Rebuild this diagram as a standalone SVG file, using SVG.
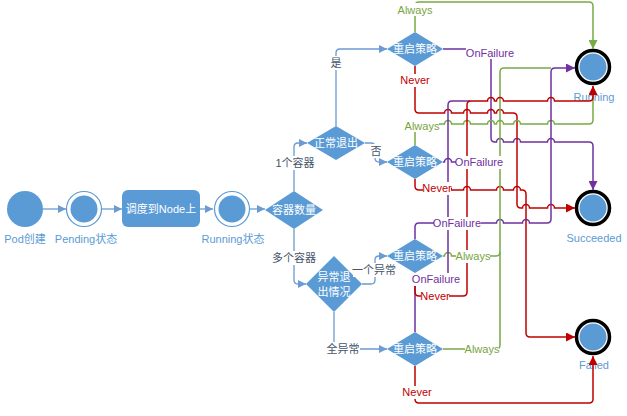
<svg xmlns="http://www.w3.org/2000/svg" width="627" height="416" viewBox="0 0 627 416">
<style>
.fill{fill:#5b9bd5}
.bl{stroke:#6b9bd2;stroke-width:1.3;fill:none}
.g{stroke:#77ab43;stroke-width:1.5;fill:none}
.r{stroke:#c00000;stroke-width:1.5;fill:none}
.p{stroke:#7030a0;stroke-width:1.5;fill:none}
text{font-family:"Liberation Sans","Noto Sans CJK SC",sans-serif;text-anchor:middle;dominant-baseline:central}
.wt{fill:#fff;font-size:11px}
.nl{fill:#5b9bd5;font-size:11px}
.cl{fill:#44546a;font-size:11px}
.tg{fill:#77a43f;font-size:11px}
.tr{fill:#c00000;font-size:11px}
.tp{fill:#7030a0;font-size:11px}
.bg{fill:#fff}
</style>
<defs>
<marker id="mb" viewBox="0 0 10 10" refX="10" refY="5" markerUnits="userSpaceOnUse" markerWidth="9" markerHeight="8" orient="auto"><path d="M0,0 L10,5 L0,10 z" fill="#6b9bd2"/></marker>
<marker id="mg" viewBox="0 0 10 10" refX="10" refY="5" markerUnits="userSpaceOnUse" markerWidth="10" markerHeight="9" orient="auto"><path d="M0,0 L10,5 L0,10 z" fill="#77ab43"/></marker>
<marker id="mr" viewBox="0 0 10 10" refX="10" refY="5" markerUnits="userSpaceOnUse" markerWidth="10" markerHeight="9" orient="auto"><path d="M0,0 L10,5 L0,10 z" fill="#c00000"/></marker>
<marker id="mp" viewBox="0 0 10 10" refX="10" refY="5" markerUnits="userSpaceOnUse" markerWidth="10" markerHeight="9" orient="auto"><path d="M0,0 L10,5 L0,10 z" fill="#7030a0"/></marker>
</defs>

<g id="pod-create"><circle class="fill" cx="25" cy="209" r="18"/><text class="nl" x="25" y="239">Pod创建</text></g>
<g id="pending"><circle cx="84" cy="209" r="17.5" fill="#fff" stroke="#5b9bd5" stroke-width="1.2"/><circle class="fill" cx="84" cy="209" r="13.5"/><text class="nl" x="86" y="239">Pending状态</text></g>
<g id="schedule"><rect class="fill" x="122" y="190" width="78" height="37" rx="6"/><text class="wt" x="161" y="209">调度到Node上</text></g>
<g id="running-state"><circle cx="232" cy="209" r="17.5" fill="#fff" stroke="#5b9bd5" stroke-width="1.2"/><circle class="fill" cx="232" cy="209" r="13.5"/><text class="nl" x="233" y="239">Running状态</text></g>
<g id="count"><polygon class="fill" points="265,210 294,191 323,210 294,229"/><text class="wt" x="294" y="210">容器数量</text></g>
<g id="normal-exit"><polygon class="fill" points="307,143 336,126 365,143 336,160"/><text class="wt" x="336" y="143">正常退出</text></g>
<g id="abnormal-exit"><polygon class="fill" points="306,284 334,256 362,284 334,312"/><text class="wt" x="334" y="277">异常退</text><text class="wt" x="334" y="292">出情况</text></g>
<g id="policy1"><polygon class="fill" points="387,49 415,32 443,49 415,66"/><text class="wt" x="415" y="49">重启策略</text></g>
<g id="policy2"><polygon class="fill" points="387,162 415,145 443,162 415,179"/><text class="wt" x="415" y="162">重启策略</text></g>
<g id="policy3"><polygon class="fill" points="387,256 415,239 443,256 415,273"/><text class="wt" x="415" y="256">重启策略</text></g>
<g id="policy4"><polygon class="fill" points="387,349 415,332 443,349 415,366"/><text class="wt" x="415" y="349">重启策略</text></g>
<g id="final-running"><circle cx="593" cy="67" r="16.5" fill="#fff" stroke="#000" stroke-width="3.5"/><circle class="fill" cx="593" cy="67" r="13.5"/><text class="nl" x="594" y="97">Running</text></g>
<g id="final-succeeded"><circle cx="593" cy="208" r="16.5" fill="#fff" stroke="#000" stroke-width="3.5"/><circle class="fill" cx="593" cy="208" r="13.5"/><text class="nl" x="594" y="238">Succeeded</text></g>
<g id="final-failed"><circle cx="593" cy="337" r="16.5" fill="#fff" stroke="#000" stroke-width="3.5"/><circle class="fill" cx="593" cy="337" r="13.5"/><text class="nl" x="594" y="365">Failed</text></g>

<g id="connectors">
<path class="bl" d="M43,209 H66" marker-end="url(#mb)"/>
<path class="bl" d="M102,209 H122" marker-end="url(#mb)"/>
<path class="bl" d="M200,209 H213" marker-end="url(#mb)"/>
<path class="bl" d="M250,209 H265" marker-end="url(#mb)"/>
<path class="bl" d="M294,191 V147 Q294,143 298,143 H307" marker-end="url(#mb)"/>
<path class="bl" d="M294,229 V280 Q294,284 298,284 H306" marker-end="url(#mb)"/>
<path class="bl" d="M336,126 V53 Q336,49 340,49 H387" marker-end="url(#mb)"/>
<path class="bl" d="M365,143 H371 Q375,143 375,147 V158 Q375,162 379,162 H387" marker-end="url(#mb)"/>
<path class="bl" d="M362,284 H371 Q375,284 375,280 V260 Q375,256 379,256 H387" marker-end="url(#mb)"/>
<path class="bl" d="M334,312 V345 Q334,349 338,349 H387" marker-end="url(#mb)"/>

<path class="g" d="M415,32 V6 Q415,2 419,2 H589 Q593,2 593,6 V49" marker-end="url(#mg)"/>
<path class="p" d="M443,49 H487 Q491,49 491,53 V138 Q491,142 495,142 H496.5 a3.5,3.5 0 0 1 7,0 H513.5 a3.5,3.5 0 0 1 7,0 H547.5 a3.5,3.5 0 0 1 7,0 H589 Q593,142 593,146 V190" marker-end="url(#mp)"/>
<path class="r" d="M415,66 V109 Q415,113 419,113 H444.5 a3.5,3.5 0 0 1 7,0 H463.5 a3.5,3.5 0 0 1 7,0 H487.5 a3.5,3.5 0 0 1 7,0 H496.5 a3.5,3.5 0 0 1 7,0 H513 Q517,113 517,117 V204 Q517,208 521,208 H522.5 a3.5,3.5 0 0 1 7,0 H547.5 a3.5,3.5 0 0 1 7,0 H575" marker-end="url(#mr)"/>
<path class="g" d="M415,145 V128 Q415,124 419,124 H444.5 a3.5,3.5 0 0 1 7,0 H463.5 a3.5,3.5 0 0 1 7,0 H487.5 a3.5,3.5 0 0 1 7,0 H496.5 a3.5,3.5 0 0 1 7,0 H513.5 a3.5,3.5 0 0 1 7,0 H547.5 a3.5,3.5 0 0 1 7,0 H589 Q593,124 593,120 V86" marker-end="url(#mg)"/>
<path class="p" d="M443,162 H444.5 a3.5,3.5 0 0 1 7,0 H480"/>
<path class="r" d="M415,179 V186 Q415,190 419,190 H444.5 a3.5,3.5 0 0 1 7,0 H463.5 a3.5,3.5 0 0 1 7,0 H496.5 a3.5,3.5 0 0 1 7,0 H513.5 a3.5,3.5 0 0 1 7,0 H522 Q526,190 526,194 V333 Q526,337 530,337 H575" marker-end="url(#mr)"/>
<path class="p" d="M415,239 V227 Q415,223 419,223 H444.5 a3.5,3.5 0 0 1 7,0 H463.5 a3.5,3.5 0 0 1 7,0 H496.5 a3.5,3.5 0 0 1 7,0 H522.5 a3.5,3.5 0 0 1 7,0 H547 Q551,223 551,219 V72 Q551,68 555,68 H575" marker-end="url(#mp)"/>
<path class="g" d="M443,256 H444.5 a3.5,3.5 0 0 1 7,0 H463.5 a3.5,3.5 0 0 1 7,0 H496 Q500,256 500,252"/>
<path class="g" d="M443,349 H496 Q500,349 500,345 V72 Q500,68 504,68 H551"/>
<path class="p" d="M415,332 V283 Q415,279 419,279 H444 Q448,279 448,275 V105 Q448,101 452,101 H470"/>
<path class="r" d="M415,273 V292 Q415,296 419,296 H463 Q467,296 467,292 V105 Q467,101 471,101 H487.5 a3.5,3.5 0 0 1 7,0 H496.5 a3.5,3.5 0 0 1 7,0 H547.5 a3.5,3.5 0 0 1 7,0 H589 Q593,101 593,97 V86" marker-end="url(#mr)"/>
<path class="r" d="M415,366 V399 Q415,403 419,403 H589 Q593,403 593,399 V356" marker-end="url(#mr)"/>
</g>

<g id="labels">
<rect class="bg" x="276" y="156" width="38" height="14"/><text class="cl" x="295" y="163">1个容器</text>
<rect class="bg" x="273" y="251" width="43" height="14"/><text class="cl" x="294" y="258">多个容器</text>
<rect class="bg" x="330" y="56" width="12" height="14"/><text class="cl" x="336" y="63">是</text>
<rect class="bg" x="370" y="144" width="12" height="14"/><text class="cl" x="376" y="151">否</text>
<rect class="bg" x="353" y="263" width="43" height="14"/><text class="cl" x="374" y="270">一个异常</text>
<rect class="bg" x="326" y="342" width="34" height="14"/><text class="cl" x="343" y="349">全异常</text>

<rect class="bg" x="398" y="3" width="34" height="13"/><text class="tg" x="415" y="10">Always</text>
<rect class="bg" x="466" y="46" width="48" height="13"/><text class="tp" x="490" y="53">OnFailure</text>
<rect class="bg" x="401" y="74" width="28" height="13"/><text class="tr" x="415" y="80">Never</text>
<rect class="bg" x="405" y="119" width="34" height="13"/><text class="tg" x="422" y="126">Always</text>
<rect class="bg" x="456" y="156" width="47" height="13"/><text class="tp" x="479" y="162">OnFailure</text>
<rect class="bg" x="423" y="182" width="28" height="13"/><text class="tr" x="437" y="188">Never</text>
<rect class="bg" x="434" y="217" width="47" height="13"/><text class="tp" x="457" y="223">OnFailure</text>
<rect class="bg" x="456" y="250" width="34" height="13"/><text class="tg" x="473" y="256">Always</text>
<rect class="bg" x="413" y="273" width="47" height="13"/><text class="tp" x="436" y="279">OnFailure</text>
<rect class="bg" x="421" y="290" width="28" height="13"/><text class="tr" x="435" y="296">Never</text>
<rect class="bg" x="465" y="343" width="34" height="13"/><text class="tg" x="482" y="349">Always</text>
<rect class="bg" x="403" y="386" width="28" height="13"/><text class="tr" x="417" y="392">Never</text>
</g>
</svg>
